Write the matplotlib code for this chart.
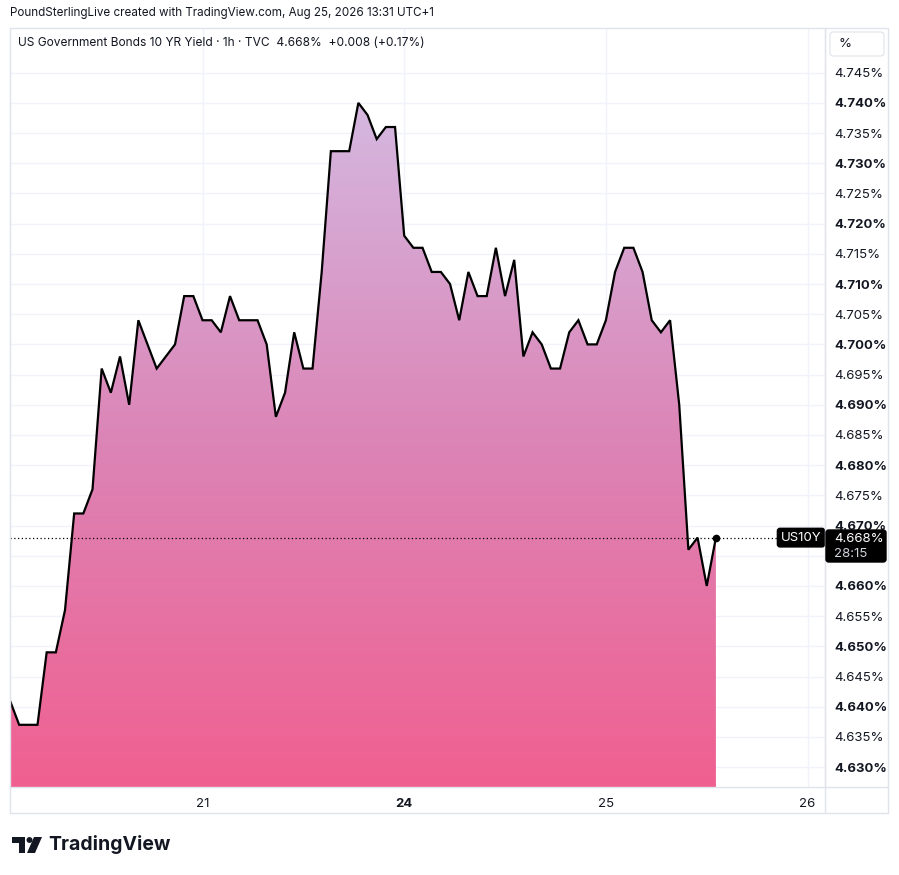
import matplotlib
matplotlib.use("Agg")
import matplotlib.pyplot as plt
import numpy as np
from matplotlib.colors import LinearSegmentedColormap
from matplotlib.transforms import blended_transform_factory
from matplotlib.patches import Rectangle, FancyBboxPatch, Polygon

# hourly closes, US 10Y yield (%)
yields = [4.641, 4.637, 4.637, 4.637, 4.649, 4.649, 4.656, 4.672, 4.672, 4.676,
          4.696, 4.692, 4.698, 4.690, 4.704, 4.700, 4.696, 4.698, 4.700, 4.708,
          4.708, 4.704, 4.704, 4.702, 4.708, 4.704, 4.704, 4.704, 4.700, 4.688,
          4.692, 4.702, 4.696, 4.696, 4.712, 4.732, 4.732, 4.732, 4.740, 4.738,
          4.734, 4.736, 4.736, 4.718, 4.716, 4.716, 4.712, 4.712, 4.710, 4.704,
          4.712, 4.708, 4.708, 4.716, 4.708, 4.714, 4.698, 4.702, 4.700, 4.696,
          4.696, 4.702, 4.704, 4.700, 4.700, 4.704, 4.712, 4.716, 4.716, 4.712,
          4.704, 4.702, 4.704, 4.690, 4.666, 4.668, 4.660, 4.668]
day_ticks = [21, 43, 65, 87]
day_labels = ["21", "24", "25", "26"]
ytick_vals = [round(4.630 + 0.005 * k, 3) for k in range(24)]
last_price = 4.668

W, H = 899, 875
fig = plt.figure(figsize=(W / 100, H / 100), dpi=100)
fig.patch.set_facecolor("white")
plt.rcParams["font.family"] = ["Inter", "DejaVu Sans"]

ax = fig.add_axes([10 / W, 1 - 787 / H, 815 / W, 759 / H])
x = np.arange(len(yields))
y = np.array(yields)

ymin, ymax = 4.6267, 4.7524

# gradient area
cmap = LinearSegmentedColormap.from_list("tv", ["#f06090", "#dc84b6", "#d4b8e0"])
grad = np.linspace(0, 1, 256).reshape(-1, 1)
poly = ax.fill_between(x, y, ymin, color="none", lw=0)
img = ax.imshow(grad, cmap=cmap, origin="lower", aspect="auto",
                extent=[0, x[-1], ymin, 4.740], zorder=1)
img.set_clip_path(poly.get_paths()[0], transform=ax.transData)
ax.set_xlim(0, 88.9)
ax.set_ylim(ymin, ymax)

ax.plot(x, y, color="black", lw=1.6, zorder=3, solid_joinstyle="miter")
ax.plot(x[-1], y[-1], "o", color="black", ms=4.5, zorder=4)
ax.axhline(last_price, xmax=(778 - 10) / 815, color="black", lw=0.9,
           ls=(0, (1, 2)), zorder=2)

# grid
for v in ytick_vals:
    ax.axhline(v, color="#f0f3fa", lw=1, zorder=0)
for d in day_ticks:
    ax.axvline(d, color="#f0f3fa", lw=1, zorder=0)

ax.set_xticks(day_ticks)
ax.set_xticklabels(day_labels)
ax.yaxis.tick_right()
ax.set_yticks(ytick_vals)
# the 4.665% label sits under the price tag
ax.set_yticklabels(["" if v == 4.665 else f"{v:.3f}%" for v in ytick_vals])
ax.tick_params(axis="both", length=0, colors="#131722", labelsize=9.5)
ax.tick_params(axis="y", pad=7)
ax.tick_params(axis="x", pad=8)
for v, lab in zip(ytick_vals, ax.get_yticklabels()):
    if round(v * 1000) % 10 == 0:
        lab.set_fontweight("bold")
for lab in ax.get_xticklabels():
    if lab.get_text() == "24":
        lab.set_fontweight("bold")

for side in ["left", "top", "bottom"]:
    ax.spines[side].set_visible(False)
ax.spines["right"].set_color("#e0e3eb")

# chart frame
frame_color = "#e0e3eb"
fig.add_artist(Rectangle((10 / W, 1 - 813 / H), 878 / W, 785 / H, transform=fig.transFigure,
                         fill=False, ec=frame_color, lw=1))
fig.add_artist(plt.Line2D([10 / W, 888 / W], [1 - 787 / H, 1 - 787 / H], color=frame_color, lw=1))
fig.add_artist(plt.Line2D([825 / W, 825 / W], [1 - 813 / H, 1 - 28 / H], color=frame_color, lw=1))
fig.add_artist(FancyBboxPatch((830 / W, 1 - 56 / H), 54 / W, 24 / H, transform=fig.transFigure,
                              boxstyle="round,pad=0,rounding_size=0.004", fc="white",
                              ec="#e0e3eb", lw=0.8))
fig.text(838 / W, 1 - 44 / H, "%", fontsize=9.5, va="center", color="#131722")

# price labels
tr = blended_transform_factory(fig.transFigure, ax.transData)
ax.text(801 / W, last_price, "US10Y", transform=tr, ha="center", va="center",
        color="white", fontsize=9.5, zorder=6,
        bbox=dict(boxstyle="round,pad=0.25,rounding_size=0.2", fc="black", ec="black"))
fig.add_artist(FancyBboxPatch((826 / W, 1 - 562 / H), 60 / W, 32 / H, transform=fig.transFigure,
                              boxstyle="round,pad=0,rounding_size=0.003", fc="black",
                              ec="black", zorder=6))
fig.text(834 / W, 1 - 539 / H, "4.668%", fontsize=9.5, va="center", color="white", zorder=7)
fig.text(834 / W, 1 - 554 / H, "28:15", fontsize=9.5, va="center", color="#d1d4dc", zorder=7)

# header texts
fig.text(10 / W, 1 - 13 / H, "PoundSterlingLive created with TradingView.com, Aug 25, 2026 13:31 UTC+1",
         fontsize=8.4, va="center", color="#131722")
fig.text(18 / W, 1 - 43 / H, "US Government Bonds 10 YR Yield · 1h · TVC  4.668%  +0.008 (+0.17%)",
         fontsize=8.6, va="center", color="#131722")

# TradingView logo
logo = "#131722"
fig.add_artist(Polygon([(12 / W, 1 - 837 / H), (25 / W, 1 - 837 / H), (25 / W, 1 - 853 / H),
                        (19 / W, 1 - 853 / H), (19 / W, 1 - 843 / H), (12 / W, 1 - 843 / H)],
                       closed=True, transform=fig.transFigure, fc=logo, ec="none"))
fig.add_artist(plt.Circle((29.5 / W, 1 - 840 / H), 3 / W, transform=fig.transFigure, fc=logo))
fig.add_artist(Polygon([(34 / W, 1 - 837 / H), (42 / W, 1 - 837 / H), (35 / W, 1 - 853 / H),
                        (27 / W, 1 - 853 / H)], closed=True, transform=fig.transFigure, fc=logo))
fig.text(48 / W, 1 - 845 / H, "TradingView", fontsize=14, fontweight="bold", va="center",
         color=logo)

fig.savefig("out.png", dpi=100)
